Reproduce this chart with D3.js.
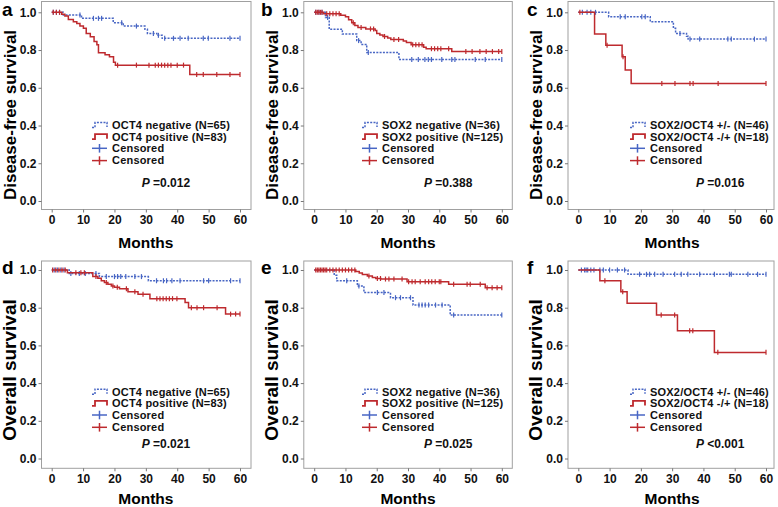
<!DOCTYPE html>
<html>
<head>
<meta charset="utf-8">
<script src="https://cdn.jsdelivr.net/npm/d3@7"></script>
<style>
  body { margin: 0; background: #fff; }
  text { font-family: "Liberation Sans", Arial, sans-serif; }
</style>
</head>
<body>
<svg id="chart"></svg>
<script>
// tick values
const monthTicks = [0, 10, 20, 30, 40, 50, 60];
const survivalTicks = [0, 0.2, 0.4, 0.6, 0.8, 1.0];

// a: disease-free survival by OCT4
const dfsOct4Neg = [[0,1],[3.7,0.986],[9.5,0.968],[19.6,0.945],[22.8,0.927],[29.7,0.91],[30.5,0.888],[33.5,0.878],[35.2,0.862]];
const dfsOct4NegCens = [0.5,1.5,2.5,9,13.3,14.9,15.9,22.3,27,32.4,34,36,38.8,40.9,43.5,48.3,49.9,56.8,60];
const dfsOct4Pos = [[0,1],[3.2,0.99],[4.2,0.98],[5.3,0.962],[6.9,0.95],[8,0.94],[9,0.927],[10.1,0.915],[11,0.888],[12.3,0.87],[13.5,0.845],[14.4,0.828],[14.9,0.785],[17,0.775],[18.4,0.765],[19.7,0.735],[20.3,0.72],[44,0.67]];
const dfsOct4PosCens = [0.5,1.5,2.5,21,27,31,33,34,35,36,37,38,40,42,46.2,48.3,52.6,56.8,60];

// b: disease-free survival by SOX2
const dfsSox2Neg = [[0,1],[3.6,0.972],[4.8,0.91],[9,0.885],[13.6,0.85],[15,0.83],[16.8,0.787],[27.1,0.75]];
const dfsSox2NegCens = [0.5,1.5,2.5,4.3,14.2,17.3,31.2,33.3,35.4,36.5,37.5,40.8,44,45,51.5,54.7,60];
const dfsSox2Pos = [[0,1],[3,0.992],[8.5,0.984],[10,0.976],[11,0.96],[12,0.944],[13,0.93],[14,0.92],[16.5,0.912],[19.5,0.904],[20,0.888],[21,0.88],[22,0.872],[23.5,0.864],[24.5,0.856],[28.5,0.848],[29.5,0.84],[31,0.828],[35,0.815],[35.8,0.807],[44,0.792]];
const dfsSox2PosCens = [0.5,1,1.5,2,2.5,4,5,6,7,8,12.5,15,18,19,22.5,25.5,27,31.5,32.5,33.5,34.5,37.5,38.5,39.5,40.5,43,48.5,50.5,53,55,57,59,60];

// c: disease-free survival by SOX2/OCT4
const dfsComboA = [[0,1],[9.7,0.977],[23,0.95],[30.4,0.915],[31.1,0.888],[34.6,0.873],[35.1,0.858]];
const dfsComboACens = [1.3,2.8,4,5.5,13.4,15,20.3,21.4,32.5,35.7,38.8,47.8,48.9,56.3,60];
const dfsComboB = [[0,1],[5.2,0.885],[8.8,0.826],[14,0.765],[15,0.694],[16.9,0.623]];
const dfsComboBCens = [0.5,9.2,14.3,26.7,30.9,35.7,36.7,44.7,60];

// d: overall survival by OCT4
const osOct4Neg = [[0,1],[5.6,0.982],[15.2,0.965],[30.8,0.943]];
const osOct4NegCens = [0.8,1.8,2.9,3.9,6.1,8.8,10.7,14.1,17.4,20,21,22,23.6,26.5,28.6,33.4,35.6,36.6,38.3,40.9,48.4,50,57,60];
const osOct4Pos = [[0,1],[5,0.986],[13.1,0.965],[14.7,0.956],[15.8,0.943],[16.8,0.934],[17.9,0.924],[19,0.915],[20,0.908],[21.6,0.9],[24.3,0.885],[27.5,0.872],[31.3,0.848],[42.5,0.828],[43.6,0.8],[55.4,0.766]];
const osOct4PosCens = [0.3,1.3,2.3,3.3,4.3,7.7,9.3,10.4,14.1,17.4,19.5,20.9,23.8,26.5,29.1,33.5,34.5,35.5,36.5,37.5,38.5,39.9,44.5,46.3,48.4,52.7,57,58.6,60];

// e: overall survival by SOX2
const osSox2Neg = [[0,1],[6.4,0.972],[7.2,0.943],[13.8,0.915],[15.9,0.88],[24.4,0.853],[31.6,0.814],[43.5,0.761]];
const osSox2NegCens = [10.4,14.3,20.2,22.3,26,27.6,30.8,33.5,34.5,35.5,36.6,38.8,40.9,44.6,60];
const osSox2Pos = [[0,1],[13.3,0.992],[14.4,0.984],[15.4,0.976],[17,0.968],[18.6,0.96],[19.7,0.955],[21.3,0.952],[29.7,0.938],[43,0.924],[54.7,0.906]];
const osSox2PosCens = [0.5,1,1.5,2,2.5,3,3.5,4,5,6,7,8,9,10,11,12,13,17.5,20.2,21.2,22.8,23.9,25.5,28.1,30.2,31.3,32.3,33.9,35.5,36.6,37.6,38.7,40,40.5,44.6,48.9,49.9,53.1,55.3,56.9,58.5,60];

// f: overall survival by SOX2/OCT4
const osComboA = [[0,1],[15.9,0.977]];
const osComboACens = [1,2,2.5,3,4,5,6.9,8,10,12.5,14.8,19.6,21.8,22.8,24.4,27.1,30.8,32.9,35,38.8,43.5,48.3,48.9,54.2,57.3,60];
const osComboB = [[0,1],[6.9,0.943],[13.6,0.885],[15.6,0.823],[25,0.761],[31.7,0.678],[43.5,0.563]];
const osComboBCens = [8.5,14.2,26.5,30.8,35.6,36.6,44.6,60];

// legend labels and p values
const oct4Labels = ["OCT4 negative (N=65)", "OCT4 positive (N=83)"];
const sox2Labels = ["SOX2 negative (N=36)", "SOX2 positive (N=125)"];
const comboLabels = ["SOX2/OCT4 +/- (N=46)", "SOX2/OCT4 -/+ (N=18)"];
const pValues = ["=0.012", "=0.388", "=0.016", "=0.021", "=0.025", "<0.001"];
const yTitles = ["Disease-free survival", "Overall survival"];

const blue = "#4866c4", red = "#be2a2e";

const width = 778, height = 507;
const svg = d3.select("#chart").attr("width", width).attr("height", height);

// geometry of the 3x2 grid
const cols = [
  {x0: 51.7, x60: 240, left: 41.5, right: 251, leg: 92, p: 141.7, letter: 2},
  {x0: 314.2, x60: 501.8, left: 303.8, right: 512.3, leg: 362, p: 424, letter: 261},
  {x0: 578.3, x60: 766, left: 568, right: 774, leg: 630, p: 696, letter: 527}
];
const rows = [
  {y1: 12.3, y0: 201, top: 1.5, bottom: 209.5, leg: 125, p: 182.7, title: 115, months: 247.5},
  {y1: 270, y0: 458.5, top: 261, bottom: 468.3, leg: 391.7, p: 443.3, title: 370, months: 503.5}
];

const panels = [
  {id: "a", r: 0, c: 0, neg: dfsOct4Neg, negC: dfsOct4NegCens, pos: dfsOct4Pos, posC: dfsOct4PosCens, labels: oct4Labels},
  {id: "b", r: 0, c: 1, neg: dfsSox2Neg, negC: dfsSox2NegCens, pos: dfsSox2Pos, posC: dfsSox2PosCens, labels: sox2Labels},
  {id: "c", r: 0, c: 2, neg: dfsComboA, negC: dfsComboACens, pos: dfsComboB, posC: dfsComboBCens, labels: comboLabels},
  {id: "d", r: 1, c: 0, neg: osOct4Neg, negC: osOct4NegCens, pos: osOct4Pos, posC: osOct4PosCens, labels: oct4Labels},
  {id: "e", r: 1, c: 1, neg: osSox2Neg, negC: osSox2NegCens, pos: osSox2Pos, posC: osSox2PosCens, labels: sox2Labels},
  {id: "f", r: 1, c: 2, neg: osComboA, negC: osComboACens, pos: osComboB, posC: osComboBCens, labels: comboLabels}
];

// survival value at time t of a step series
function survAt(steps, t) {
  let s = 1;
  steps.forEach(d => { if (d[0] <= t) s = d[1]; });
  return s;
}

panels.forEach((p, i) => {
  const col = cols[p.c], row = rows[p.r];
  const x = d3.scaleLinear().domain([0, 60]).range([col.x0, col.x60]);
  const y = d3.scaleLinear().domain([0, 1]).range([row.y0, row.y1]);
  const g = svg.append("g");

  // frame
  g.append("rect")
    .attr("x", col.left).attr("y", row.top)
    .attr("width", col.right - col.left).attr("height", row.bottom - row.top)
    .attr("fill", "none").attr("stroke", "#a0a0a0").attr("stroke-width", 1);

  // axes
  const yAxis = d3.axisLeft(y).tickValues(survivalTicks).tickFormat(d3.format(".1f")).tickSize(3).tickPadding(2);
  g.append("g").attr("transform", `translate(${col.left},0)`).call(yAxis)
    .call(a => a.select(".domain").remove())
    .call(a => a.selectAll("line").attr("stroke", "#777"))
    .call(a => a.selectAll("text").attr("font-size", 12).attr("font-weight", "bold")
      .attr("font-family", "Liberation Sans, Arial, sans-serif").attr("fill", "#111"));

  const xAxis = d3.axisBottom(x).tickValues(monthTicks).tickSize(3).tickPadding(3);
  g.append("g").attr("transform", `translate(0,${row.bottom})`).call(xAxis)
    .call(a => a.select(".domain").remove())
    .call(a => a.selectAll("line").attr("stroke", "#777"))
    .call(a => a.selectAll("text").attr("font-size", 12).attr("font-weight", "bold")
      .attr("font-family", "Liberation Sans, Arial, sans-serif").attr("fill", "#111"));

  // titles
  g.append("text")
    .attr("x", (col.x0 + col.x60) / 2).attr("y", row.months)
    .attr("text-anchor", "middle").attr("font-size", 15.5).attr("font-weight", "bold")
    .text("Months");
  g.append("text")
    .attr("transform", `translate(${col.left - 26},${row.title}) rotate(-90)`)
    .attr("text-anchor", "middle").attr("font-size", p.r === 0 ? 17 : 19).attr("font-weight", "bold")
    .text(yTitles[p.r]);
  g.append("text")
    .attr("x", col.letter).attr("y", row.y1 + 4)
    .attr("font-size", 19).attr("font-weight", "bold")
    .text(p.id);

  // curves
  const line = d3.line().x(d => x(d[0])).y(d => y(d[1])).curve(d3.curveStepAfter);
  const series = [
    {steps: p.neg, cens: p.negC, color: blue, dash: "2,1.3"},
    {steps: p.pos, cens: p.posC, color: red, dash: null}
  ];
  series.forEach(s => {
    const end = d3.max(s.cens);
    const pts = s.steps.concat([[end, s.steps[s.steps.length - 1][1]]]);
    g.append("path").datum(pts)
      .attr("d", line).attr("fill", "none")
      .attr("stroke", s.color).attr("stroke-width", 1.5)
      .attr("stroke-dasharray", s.dash);
    g.selectAll(null).data(s.cens).enter().append("line")
      .attr("x1", d => x(d)).attr("x2", d => x(d))
      .attr("y1", d => y(survAt(s.steps, d)) - 2.5)
      .attr("y2", d => y(survAt(s.steps, d)) + 2.5)
      .attr("stroke", s.color).attr("stroke-width", 1.2);
  });

  // legend
  const lx = col.leg, tx = col.leg + 20;
  const legRows = [0, 11.7, 23.3, 35.6].map(v => row.leg + v);
  const legText = [p.labels[0], p.labels[1], "Censored", "Censored"];
  const symbol = (yc) => `M${lx},${yc + 2.5}h3v-5h12v4.5`;
  g.append("path").attr("d", symbol(legRows[0])).attr("fill", "none")
    .attr("stroke", blue).attr("stroke-width", 1.5).attr("stroke-dasharray", "2,1.3");
  g.append("path").attr("d", symbol(legRows[1])).attr("fill", "none")
    .attr("stroke", red).attr("stroke-width", 1.8);
  [blue, red].forEach((c, k) => {
    const yc = legRows[2 + k];
    g.append("line").attr("x1", lx).attr("x2", lx + 15).attr("y1", yc).attr("y2", yc)
      .attr("stroke", c).attr("stroke-width", 1.5);
    g.append("line").attr("x1", lx + 7.5).attr("x2", lx + 7.5).attr("y1", yc - 4.3).attr("y2", yc + 4.3)
      .attr("stroke", c).attr("stroke-width", 1.5);
  });
  legText.forEach((t, k) => {
    g.append("text").attr("x", tx).attr("y", legRows[k]).attr("dy", "0.35em")
      .attr("font-family", "Noto Sans, sans-serif").attr("font-weight", 600)
      .attr("font-size", 11).attr("letter-spacing", 0.2).attr("fill", "#111")
      .text(t);
  });

  // p value
  const pt = g.append("text").attr("x", col.p).attr("y", row.p).attr("dy", "0.35em")
    .attr("font-size", 12).attr("font-weight", "bold").attr("fill", "#111");
  pt.append("tspan").attr("font-style", "italic").text("P");
  pt.append("tspan").text(" " + pValues[i]);
});
</script>
</body>
</html>
